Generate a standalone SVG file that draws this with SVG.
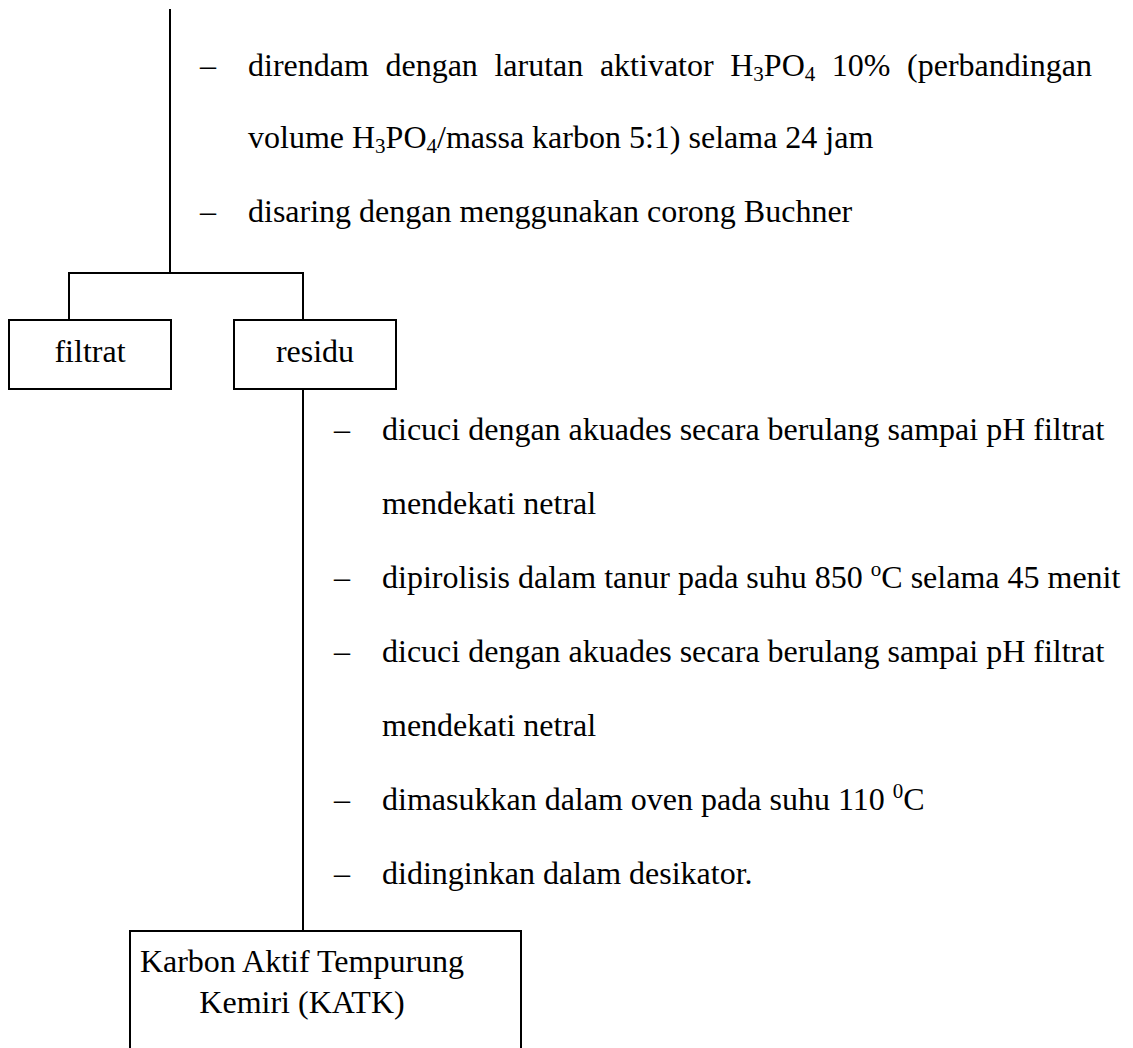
<svg xmlns="http://www.w3.org/2000/svg" width="1133" height="1048" viewBox="0 0 1133 1048">
<style>
  text { font-family: "Liberation Serif", "Times New Roman", serif; font-size: 32px; fill: #000; }
  .box { fill: #fff; stroke: #000; stroke-width: 2; }
  .ln { stroke: #000; stroke-width: 2; fill: none; }
  .c { text-anchor: middle; }
</style>
<rect width="1133" height="1048" fill="#fff"/>
<g id="connectors">
  <line class="ln" x1="170" y1="9" x2="170" y2="273"/>
  <line class="ln" x1="68" y1="273" x2="303" y2="273"/>
  <line class="ln" x1="69" y1="272" x2="69" y2="320"/>
  <line class="ln" x1="303" y1="272" x2="303" y2="320"/>
  <line class="ln" x1="303" y1="389" x2="303" y2="931"/>
</g>
<g id="steps1">
  <text x="200" y="76">–</text>
  <text x="248" y="76" word-spacing="8.6">direndam dengan larutan aktivator H<tspan font-size="21" dy="5">3</tspan><tspan dy="-5">PO</tspan><tspan font-size="21" dy="5">4</tspan><tspan dy="-5"> 10% (perbandingan</tspan></text>
  <text x="248" y="148">volume H<tspan font-size="21" dy="5">3</tspan><tspan dy="-5">PO</tspan><tspan font-size="21" dy="5">4</tspan><tspan dy="-5">/massa karbon 5:1) selama 24 jam</tspan></text>
  <text x="200" y="222">–</text>
  <text x="248" y="222">disaring dengan menggunakan corong Buchner</text>
</g>
<g id="filtrat">
  <rect class="box" x="9" y="320" width="162" height="69"/>
  <text class="c" x="90" y="362">filtrat</text>
</g>
<g id="residu">
  <rect class="box" x="234" y="320" width="162" height="69"/>
  <text class="c" x="315" y="362">residu</text>
</g>
<g id="steps2">
  <text x="334" y="440">–</text>
  <text x="382" y="440">dicuci dengan akuades secara berulang sampai pH filtrat</text>
  <text x="382" y="514">mendekati netral</text>
  <text x="334" y="588">–</text>
  <text x="382" y="588">dipirolisis dalam tanur pada suhu 850 <tspan font-size="21" dy="-12">o</tspan><tspan dy="12">C selama 45 menit</tspan></text>
  <text x="334" y="662">–</text>
  <text x="382" y="662">dicuci dengan akuades secara berulang sampai pH filtrat</text>
  <text x="382" y="736">mendekati netral</text>
  <text x="334" y="810">–</text>
  <text x="382" y="810">dimasukkan dalam oven pada suhu 110 <tspan font-size="21" dy="-12">0</tspan><tspan dy="12">C</tspan></text>
  <text x="334" y="884">–</text>
  <text x="382" y="884">didinginkan dalam desikator.</text>
</g>
<g id="katk">
  <rect class="box" x="130" y="931" width="391" height="140"/>
  <text class="c" x="302" y="972" font-size="31">Karbon Aktif Tempurung</text>
  <text class="c" x="302" y="1013" font-size="31">Kemiri (KATK)</text>
</g>
</svg>
